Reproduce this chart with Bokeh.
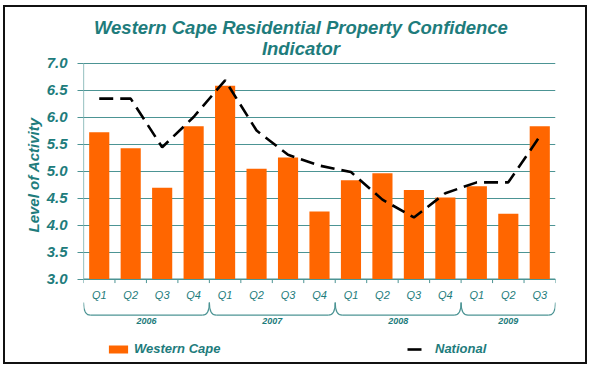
from bokeh.plotting import figure
from bokeh.models import (Range1d, FixedTicker, NumeralTickFormatter, Legend, LegendItem, Title)
from bokeh.core.properties import value
from bokeh.embed import file_html
from bokeh.resources import INLINE

# ---- data ----
years = ["2006", "2007", "2008", "2009"]
quarters_per_year = [4, 4, 4, 3]
quarters = ["Q1", "Q2", "Q3", "Q4", "Q1", "Q2", "Q3", "Q4",
            "Q1", "Q2", "Q3", "Q4", "Q1", "Q2", "Q3"]
western_cape = [5.72, 5.42, 4.69, 5.83, 6.58, 5.04, 5.25, 4.25,
                4.83, 4.96, 4.65, 4.51, 4.72, 4.21, 5.83]
national = [6.34, 6.34, 5.44, 6.0, 6.68, 5.75, 5.30, 5.10,
            4.98, 4.47, 4.14, 4.59, 4.79, 4.79, 5.64]
y_ticks = [3.0, 3.5, 4.0, 4.5, 5.0, 5.5, 6.0, 6.5, 7.0]
title_lines = ["Western Cape Residential Property Confidence", "Indicator"]
y_label = "Level of Activity"

# ---- style ----
TEAL = "#1E7C7C"
GRID = "#4C9494"
ORANGE = "#FF6600"
FONT = "Liberation Sans"

n = len(quarters)
centers = [i + 0.5 for i in range(n)]
bounds = list(range(n + 1))
y_base = y_ticks[0]

p = figure(width=584, height=359, output_backend="svg", toolbar_location=None,
           x_range=Range1d(0, n), y_range=Range1d(1.380, 8.028),
           x_axis_type=None, min_border_left=78, min_border_right=34,
           min_border_top=0, min_border_bottom=0,
           styles={"border": "2px solid #111111", "margin-left": "3px", "margin-top": "5px"})
p.outline_line_color = None
p.background_fill_color = "white"
p.border_fill_color = "white"

# y axis
ticker = FixedTicker(ticks=y_ticks)
yax = p.yaxis[0]
yax.ticker = ticker
yax.formatter = NumeralTickFormatter(format="0.0")
yax.axis_line_color = None
yax.major_tick_out = 6
yax.major_tick_in = 0
yax.major_tick_line_color = GRID
yax.minor_tick_line_color = None
yax.major_label_text_font = FONT
yax.major_label_text_font_size = "15px"
yax.major_label_text_font_style = "bold italic"
yax.major_label_text_color = TEAL
yax.major_label_standoff = 10

p.ygrid.ticker = ticker
p.ygrid.grid_line_color = GRID
p.ygrid.grid_line_width = 1
p.xgrid.visible = False

# y axis title (left panel, beyond the axis)
p.add_layout(Title(text=y_label, align="left", offset=134, text_font=FONT,
                   text_font_size="15px", text_font_style="bold italic",
                   text_color=TEAL, standoff=4), "left")

# axis lines
p.segment(x0=[0], y0=[y_ticks[0]], x1=[0], y1=[y_ticks[-1]], line_color=GRID, line_width=1.2)
p.segment(x0=[0], y0=[y_base], x1=[n], y1=[y_base], line_color=GRID, line_width=1.2)
p.segment(x0=bounds, y0=[y_base] * len(bounds), x1=bounds, y1=[y_base - 0.075] * len(bounds),
          line_color=GRID, line_width=1)

# bars and line
bars = p.vbar(x=centers, top=western_cape, bottom=y_base, width=0.64,
              fill_color=ORANGE, line_color=None)
nat = p.line(x=centers, y=national, line_color="black", line_width=2.6, line_dash="14 7")

# quarter labels
p.text(x=centers, y=[2.713] * n, text=quarters, text_align="center", text_baseline="middle",
       text_font=value(FONT), text_font_size=value("11px"), text_font_style="italic",
       text_color=TEAL)

# year groups: braces and labels
starts, ends = [], []
s = 0
for c in quarters_per_year:
    starts.append(s)
    ends.append(s + c)
    s += c
top_y, bot_y, dx = 2.565, 2.33, 0.22
k = len(years)
p.quadratic(x0=starts, y0=[top_y] * k, x1=[a + dx for a in starts], y1=[bot_y] * k,
            cx=starts, cy=[bot_y] * k, line_color=GRID, line_width=1.2)
p.quadratic(x0=[b - dx for b in ends], y0=[bot_y] * k, x1=ends, y1=[top_y] * k,
            cx=ends, cy=[bot_y] * k, line_color=GRID, line_width=1.2)
p.segment(x0=[a + dx for a in starts], y0=[bot_y] * k, x1=[b - dx for b in ends], y1=[bot_y] * k,
          line_color=GRID, line_width=1.2)
p.text(x=[(a + b) / 2 for a, b in zip(starts, ends)], y=[2.218] * k, text=years,
       text_align="center", text_baseline="middle", text_font=value(FONT),
       text_font_size=value("9px"), text_font_style="bold italic", text_color=TEAL)

# title
p.text(x=[6.91, 6.91], y=[7.657, 7.278], text=title_lines, text_align="center",
       text_baseline="middle", text_font=value(FONT), text_font_size=value("18.5px"),
       text_font_style="bold italic", text_color=TEAL)

# legends
def make_legend(label, renderer, loc, gw, gh, standoff):
    lg = Legend(items=[LegendItem(label=label, renderers=[renderer])], location=loc,
                orientation="horizontal", padding=0, margin=0, spacing=0,
                glyph_width=gw, glyph_height=gh, label_height=10, label_standoff=standoff,
                border_line_color=None, background_fill_alpha=0,
                label_text_font=FONT, label_text_font_size="13px",
                label_text_font_style="bold italic", label_text_color=TEAL,
                label_text_baseline="middle")
    p.add_layout(lg)

make_legend("Western Cape", bars, (23, 10), 24, 10, 4)
make_legend("National", nat, (324, 10), 18, 10, 10)

open("out.html", "w").write(file_html(p, INLINE))
